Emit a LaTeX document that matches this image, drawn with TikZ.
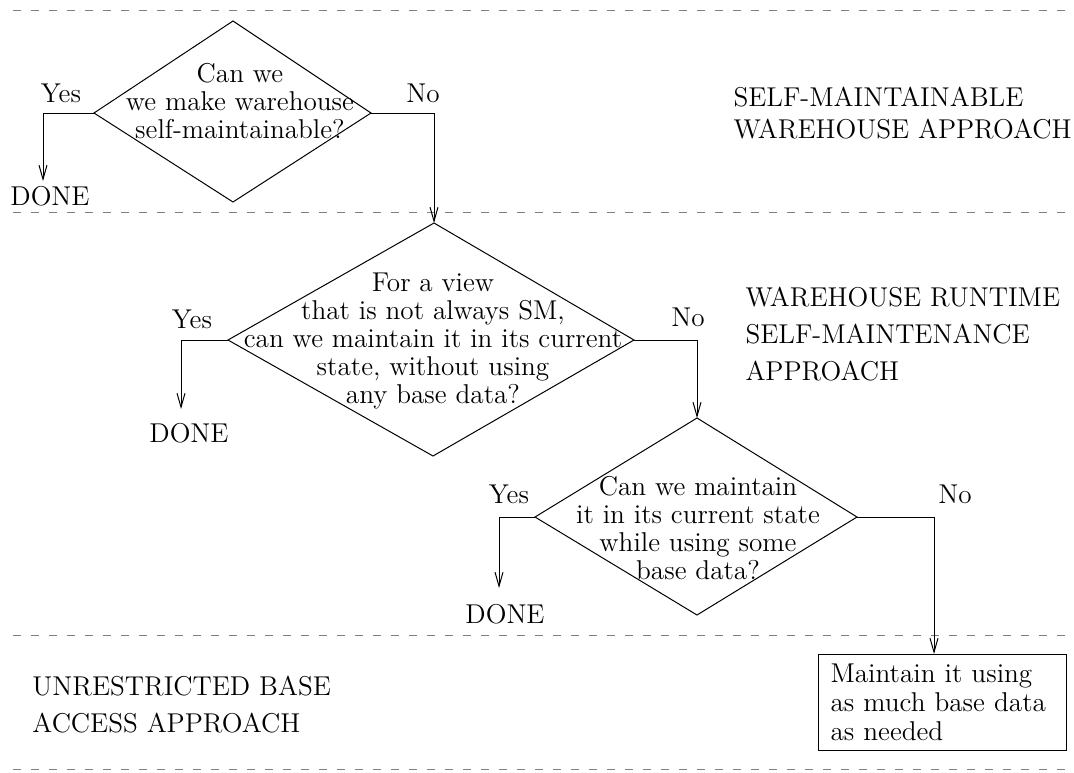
\documentclass[tikz,border=0pt]{standalone}
\usetikzlibrary{arrows.meta}
\begin{document}
\begin{tikzpicture}[x=0.5pt,y=-0.5pt,
  line width=0.5pt,
  txt/.style={inner sep=0pt,font=\fontsize{13.6}{14}\selectfont},
  question/.style={txt,align=center},
  region/.style={inner sep=0pt,align=left,anchor=base west},
  flow/.style={-{Straight Barb[length=7pt,width=4pt]}},
  sep/.style={gray,dash pattern=on 4pt off 5pt,line width=0.5pt}]
\useasboundingbox (0,0) rectangle (1074,772);

% band separators
\coordinate (s1a) at (13,10);  \coordinate (s1b) at (1068,10);
\coordinate (s2a) at (13,212); \coordinate (s2b) at (1068,212);
\coordinate (s3a) at (13,635); \coordinate (s3b) at (1068,635);
\coordinate (s4a) at (13,769); \coordinate (s4b) at (1068,769);
\draw[sep] (s1a) -- (s1b);
\draw[sep] (s2a) -- (s2b);
\draw[sep] (s3a) -- (s3b);
\draw[sep] (s4a) -- (s4b);

% decision 1
\coordinate (q1t) at (233,21);  \coordinate (q1l) at (94,113);
\coordinate (q1r) at (371,113); \coordinate (q1b) at (233,202);
\draw (q1t) -- (q1r) -- (q1b) -- (q1l) -- cycle;
\node[question] (q1) at (240,101) {Can we\\we make warehouse\\self-maintainable?};

% decision 2
\coordinate (q2t) at (434,223); \coordinate (q2l) at (228,340);
\coordinate (q2r) at (634,340); \coordinate (q2b) at (433,456);
\draw (q2t) -- (q2r) -- (q2b) -- (q2l) -- cycle;
\node[question] (q2) at (433,341) {For a view\\that is not always SM,\\can we maintain it in its current\\state, without using\\any base data?};

% decision 3
\coordinate (q3t) at (697,418); \coordinate (q3l) at (535,517);
\coordinate (q3r) at (857,517); \coordinate (q3b) at (697,615);
\draw (q3t) -- (q3r) -- (q3b) -- (q3l) -- cycle;
\node[question] (q3) at (698,528) {Can we maintain\\it in its current state\\while using some\\base data?};

% final action
\node[draw,anchor=north west,text width=112pt,align=left,
      inner xsep=6pt,inner ysep=0pt,minimum width=120.5pt,minimum height=48pt,
      font=\fontsize{13.6}{14.5}\selectfont] (act) at (818,654)
  {Maintain it using\\as much base data\\as needed};

% outcomes
\node[txt,anchor=base] (done1) at (50,205) {DONE};
\node[txt,anchor=base] (done2) at (189,442) {DONE};
\node[txt,anchor=base] (done3) at (505,623) {DONE};

\coordinate (y1) at (43,113);  \coordinate (y1e) at (43,181);
\coordinate (y2) at (181,340); \coordinate (y2e) at (181,409);
\coordinate (y3) at (499,517); \coordinate (y3e) at (499,588);
\draw[flow] (q1l) -- (y1) -- (y1e);
\draw[flow] (q2l) -- (y2) -- (y2e);
\draw[flow] (q3l) -- (y3) -- (y3e);

\coordinate (n1) at (434,113);
\coordinate (n2) at (697,340);
\coordinate (n3) at (934,517);
\draw[flow] (q1r) -- (n1) -- (q2t);
\draw[flow] (q2r) -- (n2) -- (q3t);
\draw[flow] (q3r) -- (n3) -- (act.north west -| n3);

% branch labels
\node[txt,anchor=base] (yes1) at (61,102) {Yes};
\node[txt,anchor=base] (yes2) at (192,328) {Yes};
\node[txt,anchor=base] (yes3) at (509,503) {Yes};
\node[txt,anchor=base] (no1) at (423,102) {No};
\node[txt,anchor=base] (no2) at (688,326) {No};
\node[txt,anchor=base] (no3) at (955,503) {No};

% approach labels (anchored at the baseline of their last line)
\node[region,font=\fontsize{13.6}{15.8}\selectfont] (r1) at (733,138)
  {SELF-MAINTAINABLE\\WAREHOUSE APPROACH};
\node[region,font=\fontsize{13.6}{18.5}\selectfont] (r2) at (745,380)
  {WAREHOUSE RUNTIME\\SELF-MAINTENANCE\\APPROACH};
\node[region,font=\fontsize{13.6}{18.5}\selectfont] (r3) at (32,732)
  {UNRESTRICTED BASE\\ACCESS APPROACH};
\end{tikzpicture}
\end{document}
